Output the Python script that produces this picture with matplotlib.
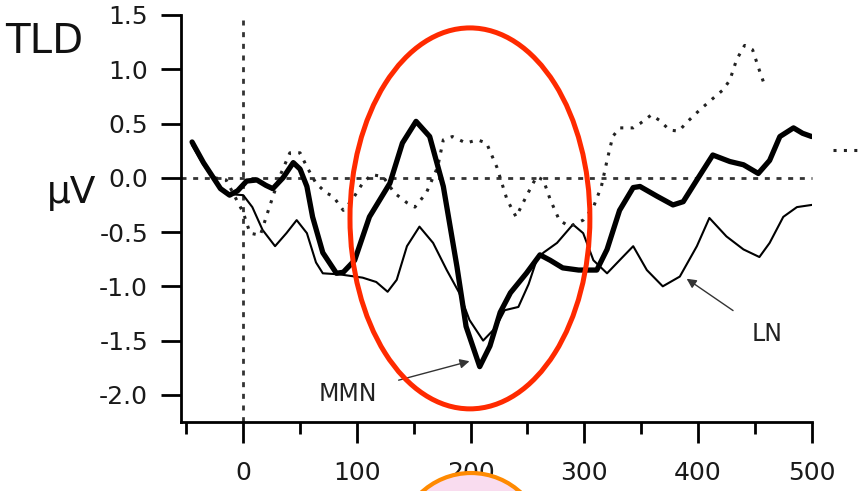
#!/usr/bin/env python3
###
### plot.py
### ERP difference waves (TLD) with MMN / LN markers

import matplotlib
matplotlib.use('AGG')
import matplotlib.pyplot as plt
from matplotlib.patches import Ellipse, Circle
from matplotlib.ticker import MultipleLocator, FormatStrFormatter

plt.rcParams['font.family'] = ['DejaVu Sans']
plt.rcParams['axes.unicode_minus'] = False

# thick solid wave
thick_t = [-45, -35, -20, -12, -5, 3, 12, 20, 26, 35, 44, 50, 56, 61, 70, 82, 88,
           98, 111, 129, 140, 152, 164, 176, 188, 196, 208, 217, 226, 235, 249,
           261, 270, 281, 295, 311, 320, 331, 343, 349, 364, 378, 387, 399, 413,
           428, 440, 453, 463, 472, 484, 492, 500]
thick_v = [0.33, 0.14, -0.10, -0.16, -0.12, -0.03, -0.02, -0.07, -0.10, 0.00, 0.14,
           0.08, -0.08, -0.36, -0.69, -0.88, -0.87, -0.76, -0.36, -0.05, 0.32,
           0.52, 0.38, -0.08, -0.82, -1.37, -1.74, -1.55, -1.24, -1.06, -0.88,
           -0.71, -0.76, -0.83, -0.85, -0.85, -0.66, -0.30, -0.09, -0.08, -0.17,
           -0.25, -0.22, -0.02, 0.21, 0.15, 0.12, 0.04, 0.16, 0.38, 0.46, 0.41,
           0.38]

# thin solid wave
thin_t = [-45, -35, -20, -12, 0, 8, 17, 28, 38, 47, 56, 64, 70, 85, 105, 117, 127,
          135, 144, 155, 167, 179, 190, 199, 211, 222, 230, 242, 251, 258, 264,
          276, 290, 299, 308, 320, 331, 343, 355, 369, 384, 399, 410, 425, 440,
          454, 463, 475, 487, 500]
thin_v = [0.30, 0.12, -0.10, -0.15, -0.16, -0.27, -0.48, -0.63, -0.51, -0.39,
          -0.51, -0.78, -0.88, -0.89, -0.92, -0.96, -1.05, -0.94, -0.63, -0.45,
          -0.60, -0.85, -1.06, -1.31, -1.50, -1.38, -1.22, -1.19, -0.98, -0.76,
          -0.69, -0.60, -0.43, -0.51, -0.76, -0.88, -0.76, -0.63, -0.85, -1.00,
          -0.91, -0.63, -0.37, -0.54, -0.66, -0.73, -0.60, -0.36, -0.27, -0.25]

# dotted wave
dot_t = [-25, -15, -6, 0, 6, 15, 23, 32, 41, 50, 56, 64, 73, 79, 88, 96, 105, 113,
         123, 133, 144, 151, 161, 171, 176, 184, 196, 206, 214, 223, 232, 240,
         249, 258, 264, 270, 278, 287, 299, 308, 315, 320, 325, 331, 343, 349,
         359, 366, 375, 383, 391, 402, 413, 422, 428, 434, 441, 448, 454, 459]
dot_v = [0.00, -0.02, -0.20, -0.32, -0.51, -0.53, -0.27, 0.01, 0.23, 0.23, 0.10,
         -0.05, -0.14, -0.17, -0.30, -0.20, -0.05, 0.03, 0.01, -0.14, -0.23,
         -0.27, -0.14, 0.10, 0.35, 0.38, 0.32, 0.35, 0.32, 0.10, -0.20, -0.36,
         -0.17, 0.01, -0.02, -0.20, -0.39, -0.45, -0.39, -0.27, -0.08, 0.16, 0.38,
         0.46, 0.46, 0.50, 0.58, 0.53, 0.44, 0.43, 0.52, 0.63, 0.73, 0.81, 0.90,
         1.09, 1.22, 1.18, 0.99, 0.84]

# stray dotted piece right of the axes
stray_t = [519, 542]
stray_v = [0.26, 0.26]

y_ticks = [-2.0, -1.5, -1.0, -0.5, 0.0, 0.5, 1.0, 1.5]
x_ticks = [0, 100, 200, 300, 400, 500]

# annotations (label, text position, arrow head)
mmn_label = ('MMN', (92, -1.99), (199, -1.69))
ln_label = ('LN', (461, -1.44), (390, -0.93))

W, H = 866, 491
DOTS = (1.0, 2.4)

fig = plt.figure(figsize=(W / 100, H / 100), dpi=100)
ax = fig.add_axes([180.7 / W, 69 / H, 631 / W, 407 / H])

ax.set_xlim(-55, 500)
ax.set_ylim(-2.25, 1.5)

for side in ('top', 'right'):
    ax.spines[side].set_visible(False)
for side in ('left', 'bottom'):
    ax.spines[side].set_linewidth(2)

ax.set_yticks(y_ticks)
ax.yaxis.set_major_formatter(FormatStrFormatter('%.1f'))
ax.set_xticks(x_ticks)
ax.xaxis.set_minor_locator(MultipleLocator(50))
ax.tick_params(axis='y', length=14.5, width=2, pad=9, labelsize=18,
               labelcolor='#1a1a1a')
ax.tick_params(axis='x', which='major', length=15, width=2, pad=13, labelsize=18,
               labelcolor='#1a1a1a')
ax.tick_params(axis='x', which='minor', length=8.5, width=2)

# reference lines
ax.plot([-55, 500], [0, 0], color='#333333', lw=2, dashes=(1.8, 2.4), clip_on=False)
ax.plot([0, 0], [1.45, -2.25], color='#333333', lw=2, dashes=(1.8, 2.4), clip_on=False)

# waves
ax.plot(thin_t, thin_v, color='black', lw=1.5, solid_joinstyle='round')
ax.plot(dot_t, dot_v, color='#222222', lw=2.2, dashes=DOTS, clip_on=False)
ax.plot(stray_t, stray_v, color='#222222', lw=2.2, dashes=DOTS, clip_on=False)
ax.plot(thick_t, thick_v, color='black', lw=3.8, solid_joinstyle='round',
        solid_capstyle='round')

for text, xy_text, xy_head in (mmn_label, ln_label):
    ax.annotate(text, xy=xy_head, xytext=xy_text, fontsize=17, color='#222222',
                ha='center', va='center', annotation_clip=False,
                arrowprops=dict(arrowstyle='-|>', color='#333333', lw=1,
                                mutation_scale=14, shrinkA=14, shrinkB=0))

# red ellipse around the MMN window
ax.add_patch(Ellipse((199.4, -0.374), 211, 3.51, fill=False, edgecolor='#ff2a00',
                     lw=3.6, clip_on=False, zorder=5))

# orange circle cut by the bottom edge
fig.add_artist(Circle((4.71, -0.55), 0.73, transform=fig.dpi_scale_trans,
                      facecolor='#f9dcef', edgecolor='#ff8a00', lw=3))

fig.text(5 / W, (H - 53) / H, 'TLD', fontsize=29, va='baseline', ha='left',
         color='#111111')
fig.text(47 / W, (H - 203) / H, 'μV', fontsize=27, va='baseline', ha='left',
         color='#111111')

fig.savefig('out.png', format='png', dpi=100)
plt.close(fig)
